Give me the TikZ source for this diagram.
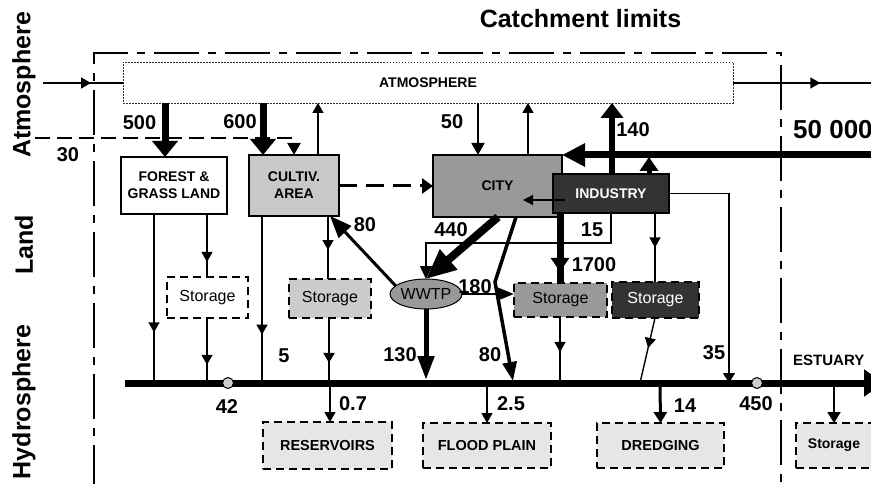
\documentclass[tikz,border=0pt]{standalone}
\usepackage{fontspec}
\setmainfont{Liberation Sans}
\usetikzlibrary{arrows.meta,shapes.geometric,decorations.markings}
\definecolor{cityg}{HTML}{999999}
\definecolor{cultg}{HTML}{C8C8C8}
\definecolor{indg}{HTML}{333333}
\definecolor{lightb}{HTML}{E6E6E6}
\definecolor{st2g}{HTML}{CCCCCC}
\begin{document}
\begin{tikzpicture}[x=1pt,y=-1pt,
  box/.style={draw, line width=1.8pt, inner sep=0pt, outer sep=0pt, align=center, font=\fontsize{14}{17}\selectfont\bfseries},
  stbox/.style={draw, dash pattern=on 8pt off 5pt, line width=1.4pt, inner sep=0pt, outer sep=0pt, font=\fontsize{16}{18}\selectfont},
  bbox/.style={stbox, fill=lightb, font=\fontsize{14.5}{16}\selectfont\bfseries},
  num/.style={font=\fontsize{20}{22}\selectfont\bfseries, inner sep=0pt},
  side/.style={font=\fontsize{25}{27}\selectfont\bfseries, rotate=90, inner sep=0pt},
  thinl/.style={line width=1.4pt},
  midarr/.style={postaction={decorate}, decoration={markings, mark=at position #1 with {\arrow{Triangle[length=10pt,width=11pt]}}}},
  tipS/.style={-{Triangle[length=10pt,width=11pt]}},
  catch/.style={line width=2.3pt, dash pattern=on 45pt off 9pt on 8pt off 9pt}
]
\useasboundingbox (0,0) rectangle (871,484);
\clip (0,0) rectangle (871,484);

% side labels
\node[side] (sAtm) at (24,85) {Atmosphere};
\node[side] (sLand) at (24,245) {Land};
\node[side] (sHyd) at (24,402) {Hydrosphere};
\node[font=\fontsize{25}{27}\selectfont\bfseries, inner sep=0pt, anchor=base] (title) at (580.5,28) {Catchment limits};

% catchment boundary
\coordinate (cbl) at (94,490);
\coordinate (ctl) at (94,53);
\coordinate (ctr) at (781,53);
\coordinate (cbr) at (781,490);
\draw[catch] (cbl) -- (ctl) -- (ctr) -- (cbr);

% nodes
\node[draw=black!80, line width=0.8pt, dash pattern=on 1.5pt off 1.5pt, minimum width=610pt, minimum height=41pt, inner sep=0pt, outer sep=0pt, font=\fontsize{14}{16}\selectfont\bfseries] (atm) at (428,82.5) {ATMOSPHERE};
\node[box, fill=white, minimum width=106pt, minimum height=57pt] (forest) at (174,185.5) {FOREST \&\\GRASS LAND};
\node[box, fill=cultg, minimum width=90pt, minimum height=61pt] (cult) at (294,185.5) {CULTIV.\\AREA};
\node[box, fill=cityg, minimum width=129pt, minimum height=62pt] (city) at (497.5,186) {CITY};
\node[box, fill=indg, text=white, minimum width=116pt, minimum height=39pt] (ind) at (611,193.5) {INDUSTRY};
\node[ellipse, draw, line width=1pt, fill=cityg, minimum width=72pt, minimum height=30pt, inner sep=0pt, outer sep=0pt, font=\fontsize{16}{18}\selectfont] (wwtp) at (426,294) {WWTP};
\node[stbox, fill=white, minimum width=81pt, minimum height=41pt] (st1) at (207.5,297.5) {Storage};
\node[stbox, fill=st2g, minimum width=82pt, minimum height=39pt] (st2) at (330,298.5) {Storage};
\node[stbox, fill=cityg, minimum width=93pt, minimum height=34pt] (st3) at (560.5,300) {Storage};
\node[stbox, fill=indg, text=white, minimum width=87pt, minimum height=36pt] (st4) at (655.5,300) {Storage};
\node[bbox, minimum width=129pt, minimum height=47pt] (res) at (327.5,445.5) {RESERVOIRS};
\node[bbox, minimum width=128pt, minimum height=45pt] (flood) at (487,445.5) {FLOOD PLAIN};
\node[bbox, minimum width=127pt, minimum height=45pt] (dredg) at (660.5,445.5) {DREDGING};
\node[bbox, font=\fontsize{14}{16}\selectfont\bfseries, minimum width=76pt, minimum height=45pt] (est) at (834,445.5) {Storage};

% hydro line
\coordinate (hl) at (125,383);
\coordinate (hr) at (884,383);
\draw[line width=7pt, -{Triangle[length=20pt,width=26pt]}] (hl) -- (hr);

% atmosphere in/out
\coordinate (inL) at (43,83);
\coordinate (outR) at (875,83);
\draw[thinl, midarr=0.6] (inL) -- (inL -| atm.west);
\draw[thinl, midarr=0.615] (outR -| atm.east) -- (outR);

% 500, 600
\draw[line width=7pt, -{Triangle[length=16pt,width=25pt]}] (atm.south -| 165,0) -- (forest.north -| 165,0);
\draw[line width=7pt, -{Triangle[length=16pt,width=25pt]}] (atm.south -| 263,0) -- (cult.north -| 263,0);
% 30 dashed
\coordinate (d30) at (35,138);
\draw[line width=2.3pt, dash pattern=on 15pt off 7pt, -{Triangle[length=12pt,width=13pt]}] (d30) -- (294,138) -- (cult.north -| 294,0);
% cult up
\draw[thinl, tipS] (cult.north -| 318,0) -- (atm.south -| 318,0);
% cult -> city dashed
\draw[line width=3pt, dash pattern=on 18pt off 9pt, -{Triangle[length=11pt,width=15pt]}] (cult.east |- city.west) -- (city.west);
% 50
\draw[line width=1.8pt, -{Triangle[length=12pt,width=13pt]}] (atm.south -| 478,0) -- (city.north -| 478,0);
% city up
\draw[thinl, tipS] (city.north -| 528,0) -- (atm.south -| 528,0);
% 50 000
\coordinate (ext) at (880,155);
\draw[line width=7pt, -{Triangle[length=23pt,width=22pt]}] (ext) -- (city.north east);
% 140
\draw[line width=6pt, -{Triangle[length=15pt,width=22pt]}] (ind.north -| 612,0) -- (atm.south -| 612,0);
% industry up to main line
\draw[line width=5pt, -{Triangle[length=14pt,width=18pt]}] (ind.north -| 649,0) -- (649,157);
% industry -> city
\coordinate (ic1) at (565,200);
\coordinate (ic2) at (523,200);
\draw[line width=1.2pt, -{Triangle[length=10pt,width=10pt]}] (ic1) -- (ic2);
% 35
\coordinate (h35) at (729,383);
\draw[thinl, -{Triangle[length=10pt,width=12pt]}] (ind.east) -| (h35);
% industry -> dark storage
\draw[thinl, midarr=0.5] (ind.south -| 655,0) -- (st4.north -| 655,0);
\coordinate (h4) at (640,383);
\draw[thinl, midarr=0.46] (st4.south -| 655,0) -- (h4);
% 1700
\draw[line width=7pt, postaction={decorate}, decoration={markings, mark=at position 0.84 with {\arrow{Triangle[length=14pt,width=18pt]}}}] (ind.south -| 560,0) -- (st3.north -| 560,0);
% 15
\draw[thinl, -{Triangle[length=13pt,width=12pt]}] (ind.south -| 611,0) -- (611,243) -- (426,243) -- (wwtp.north);
% 440
\draw[line width=8pt, -{Triangle[length=30pt,width=25pt]}] (city.south -| 498,0) -- (wwtp.north);
% 80 to cultiv
\draw[line width=3pt, -{Triangle[length=22pt,width=17pt]}] (wwtp.165) -- (cult.south -| 330,0);
% 180
\draw[line width=2.5pt, -{Triangle[length=17pt,width=13pt]}] (wwtp.east) -- (wwtp.east -| st3.west);
% 80 to flood
\coordinate (k80) at (495,282);
\coordinate (h80) at (513,381);
\draw[line width=3.5pt, -{Triangle[length=19pt,width=14pt]}] (city.south -| 516,0) -- (k80) -- (h80);
% 130
\coordinate (h130) at (426,380);
\draw[line width=5pt, -{Triangle[length=24pt,width=16pt]}] (wwtp.south) -- (h130);
% st3 -> hydro
\coordinate (h3) at (560,383);
\draw[thinl, midarr=0.53] (st3.south -| 560,0) -- (h3);
% forest
\coordinate (hf1) at (154,383);
\draw[thinl, midarr=0.70] (forest.south -| 154,0) -- (hf1);
\draw[thinl, midarr=0.76] (forest.south -| 207,0) -- (st1.north -| 207,0);
\coordinate (hf2) at (207,383);
\draw[thinl, midarr=0.72] (st1.south -| 207,0) -- (hf2);
% cultiv
\coordinate (hc1) at (262,383);
\draw[line width=1.8pt, midarr=0.71] (cult.south -| 262,0) -- (hc1);
\draw[thinl, midarr=0.54] (cult.south -| 328,0) -- (st2.north -| 328,0);
\coordinate (hc2) at (329,383);
\draw[line width=2.6pt, midarr=0.69] (st2.south -| 329,0) -- (hc2);
% hydro -> boxes
\draw[thinl, -{Triangle[length=10pt,width=11pt]}] (330,383) -- (res.north -| 330,0);
\draw[thinl, -{Triangle[length=10pt,width=11pt]}] (487,383) -- (flood.north);
\draw[line width=3pt, -{Triangle[length=11pt,width=13pt]}] (660,383) -- (dredg.north);
\draw[line width=2pt, -{Triangle[length=11pt,width=13pt]}] (834,383) -- (est.north);

% circles
\node[circle, draw, line width=1pt, fill=st2g, minimum size=11pt, inner sep=0pt] (c42) at (228,383) {};
\node[circle, draw, line width=1pt, fill=st2g, minimum size=11pt, inner sep=0pt] (c450) at (757,383) {};

% labels
\node[num] (l500) at (139.5,122.5) {500};
\node[num] (l600) at (240,122) {600};
\node[num] (l30) at (68,155) {30};
\node[num] (l50) at (452,122) {50};
\node[num] (l140) at (633,130) {140};
\node[font=\fontsize{26}{28}\selectfont\bfseries, inner sep=0pt, anchor=west] (l50k) at (793,130) {50 000};
\node[num] (l80a) at (365,225) {80};
\node[num] (l440) at (451,230) {440};
\node[num] (l15) at (592,230) {15};
\node[num] (l1700) at (594,265) {1700};
\node[num] (l180) at (475,287) {180};
\node[num] (l5) at (284,356) {5};
\node[num] (l130) at (400,355) {130};
\node[num] (l80b) at (490,355) {80};
\node[num] (l35) at (714,353) {35};
\node[num] (l42) at (227,407) {42};
\node[num] (l07) at (353,404) {0.7};
\node[num] (l25) at (511,404) {2.5};
\node[num] (l14) at (685,406) {14};
\node[num] (l450) at (756,404) {450};
\node[font=\fontsize{15}{17}\selectfont\bfseries, inner sep=0pt, anchor=west] (lest) at (793,360) {ESTUARY};
\end{tikzpicture}
\end{document}
